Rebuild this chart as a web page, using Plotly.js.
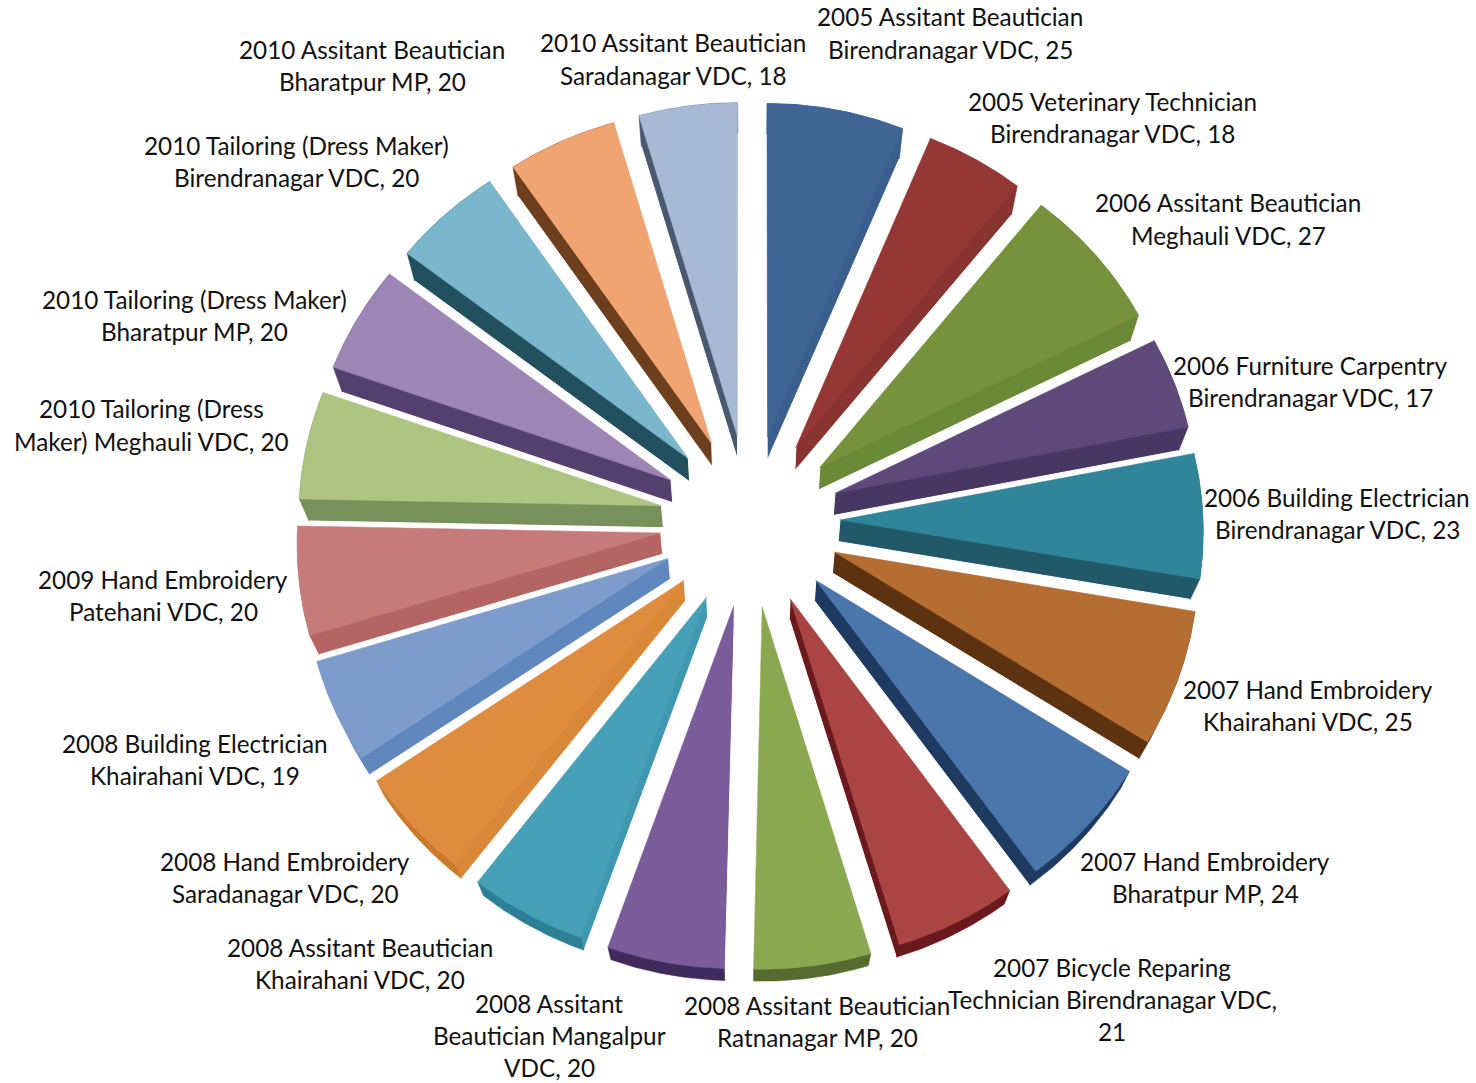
<!DOCTYPE html>
<html>
<head>
<meta charset="utf-8">
<title>Trainings by year, trade and location</title>
<script src="https://cdn.plot.ly/plotly-3.0.1.min.js"></script>
<style>
  html, body { margin: 0; padding: 0; background: #ffffff; }
  #chart { width: 1476px; height: 1083px; }
</style>
</head>
<body>
<div id="chart"></div>
<script>
// Each category is split into the lines it is printed on.
const categories = [
  ["2005 Assitant Beautician", "Birendranagar VDC"],
  ["2005 Veterinary Technician", "Birendranagar VDC"],
  ["2006 Assitant Beautician", "Meghauli VDC"],
  ["2006 Furniture Carpentry", "Birendranagar VDC"],
  ["2006 Building Electrician", "Birendranagar VDC"],
  ["2007 Hand Embroidery", "Khairahani VDC"],
  ["2007 Hand Embroidery", "Bharatpur MP"],
  ["2007 Bicycle Reparing", "Technician Birendranagar VDC"],
  ["2008 Assitant Beautician", "Ratnanagar MP"],
  ["2008 Assitant", "Beautician Mangalpur", "VDC"],
  ["2008 Assitant Beautician", "Khairahani VDC"],
  ["2008 Hand Embroidery", "Saradanagar VDC"],
  ["2008 Building Electrician", "Khairahani VDC"],
  ["2009 Hand Embroidery", "Patehani VDC"],
  ["2010 Tailoring (Dress", "Maker) Meghauli VDC"],
  ["2010 Tailoring (Dress Maker)", "Bharatpur MP"],
  ["2010 Tailoring (Dress Maker)", "Birendranagar VDC"],
  ["2010 Assitant Beautician", "Bharatpur MP"],
  ["2010 Assitant Beautician", "Saradanagar VDC"]
];
const values = [25, 18, 27, 17, 23, 25, 24, 21, 20, 20, 20, 20, 19, 20, 20, 20, 20, 20, 18];

const topColors = ["#3e6594", "#953735", "#76923c", "#5f497a", "#31859b", "#b66d31", "#4a76ac",
                   "#ab4543", "#8aa84f", "#7a5c9a", "#46a0b8", "#e08c3f", "#7d9ccb", "#c67b7b",
                   "#aec581", "#9d85b5", "#7ab7cd", "#f0a472", "#a8b9d6"];
// Cut faces of the slices, and the curved outer rim, are lit differently.
const edgeColors = ["#3a5f8c", "#8a3432", "#6b8a38", "#493763", "#215968", "#5c3210", "#1f3a60",
                    "#6a1a1c", "#83a04a", "#74579a", "#3f98b0", "#d98838", "#5f86bd", "#b56464",
                    "#76925a", "#54406e", "#22505e", "#6e3f1e", "#4a5870"];
const rimColors = ["#3a5f8c", "#8a3432", "#6b8a38", "#493763", "#215968", "#5c3210", "#1f3a60",
                   "#6a1a1c", "#556b2f", "#3f2a5c", "#2d7f96", "#c97a2d", "#5f86bd", "#b56464",
                   "#76925a", "#54406e", "#22505e", "#6e3f1e", "#4a5870"];

// Page position (centre x, centre y of the first line) of each printed label.
const labelCentres = [[950, 17], [1112, 101], [1228, 203], [1310, 365], [1337, 497], [1308, 689],
                      [1205, 861], [1112, 967], [817, 1005], [549, 1003], [360, 947], [285, 861],
                      [195, 743], [163, 579], [151, 409], [194, 299], [296, 145], [372, 49], [673, 43]];

const W = 1476, H = 1083;
const CX = 750, CY = 521;          // pie centre on the page
const UNIT_X = 363, UNIT_Y = 347.4; // page pixels per pie radius
const PULL = 0.248;                // explosion of every slice, in radii
const PERSPECTIVE = 0.0277;        // far side of the tilted disc is drawn smaller
const SHRINK = 0.9785;             // the underside is further from the eye
const DROP = 21.6 / UNIT_Y;        // thickness of the disc
const LINE_GAP = 32.2;

function project(u, v) {
  const s = 1 / (1 + PERSPECTIVE * v);
  return [u * s, v * s];
}

function sliceOutline(a0, a1) {
  const mid = (a0 + a1) / 2;
  const ox = PULL * Math.sin(mid), oy = PULL * Math.cos(mid);
  const pts = [project(ox, oy)];
  const steps = 40;
  for (let i = 0; i <= steps; i++) {
    const a = a0 + (a1 - a0) * i / steps;
    pts.push(project(ox + Math.sin(a), oy + Math.cos(a)));
  }
  return pts;
}

const lower = p => [p[0] * SHRINK, p[1] * SHRINK - DROP];

// Convex hull of the upper and lower faces gives the silhouette of the solid slice.
function hull(points) {
  const p = points.slice().sort((a, b) => a[0] - b[0] || a[1] - b[1]);
  const cross = (o, a, b) => (a[0] - o[0]) * (b[1] - o[1]) - (a[1] - o[1]) * (b[0] - o[0]);
  const half = list => {
    const out = [];
    for (const q of list) {
      while (out.length >= 2 && cross(out[out.length - 2], out[out.length - 1], q) <= 0) out.pop();
      out.push(q);
    }
    out.pop();
    return out;
  };
  return half(p).concat(half(p.slice().reverse()));
}

const total = values.reduce((a, b) => a + b, 0);
let running = 0;
const slices = values.map((v, i) => {
  const a0 = running / total * 2 * Math.PI;
  running += v;
  const a1 = running / total * 2 * Math.PI;
  return { i, a0, a1, mid: (a0 + a1) / 2 };
});

function polygon(pts, fill, line, lineWidth, text) {
  const closed = pts.concat([pts[0]]);
  return {
    type: "scatter", mode: "lines", fill: "toself",
    hoverinfo: text ? "text" : "skip", text: text || undefined,
    x: closed.map(p => p[0]), y: closed.map(p => p[1]),
    fillcolor: fill, line: { color: line, width: lineWidth }, showlegend: false
  };
}

// Paint from the far side of the disc towards the viewer.
const traces = [];
slices.slice().sort((a, b) => Math.cos(b.mid) - Math.cos(a.mid)).forEach(s => {
  const top = sliceOutline(s.a0, s.a1);
  const arc = top.slice(1);
  const name = categories[s.i].join(" ") + ", " + values[s.i];
  traces.push(polygon(hull(top.concat(top.map(lower))), edgeColors[s.i], "#ffffff", 1));
  traces.push(polygon(arc.concat(arc.map(lower).reverse()), rimColors[s.i], rimColors[s.i], 0.5));
  traces.push(polygon(top, topColors[s.i], topColors[s.i], 0.5, name));
});

// Labels are set line by line so the leading stays even; the value closes the last line.
const annotations = [];
categories.forEach((lines, i) => {
  const last = lines.length - 1;
  const printed = lines.slice();
  if (i === 7) {
    printed[last] += ",";
    printed.push(String(values[i]));
  } else {
    printed[last] += ", " + values[i];
  }
  printed.forEach((line, k) => {
    annotations.push({
      xref: "paper", yref: "paper", xanchor: "center", yanchor: "middle",
      x: labelCentres[i][0] / W,
      y: 1 - (labelCentres[i][1] + k * LINE_GAP) / H,
      text: line, showarrow: false,
      font: { family: "Lato, 'Open Sans', sans-serif", size: 24.3, color: "#111111" }
    });
  });
});

const hiddenAxis = { visible: false, showgrid: false, zeroline: false, fixedrange: true };
const layout = {
  width: W, height: H,
  margin: { l: 0, r: 0, t: 0, b: 0 },
  paper_bgcolor: "#ffffff", plot_bgcolor: "#ffffff",
  showlegend: false, hovermode: "closest",
  xaxis: Object.assign({ range: [-CX / UNIT_X, (W - CX) / UNIT_X] }, hiddenAxis),
  yaxis: Object.assign({ range: [-(H - CY) / UNIT_Y, CY / UNIT_Y] }, hiddenAxis),
  annotations
};

Plotly.newPlot("chart", traces, layout, { displayModeBar: false, responsive: false });
</script>
</body>
</html>
